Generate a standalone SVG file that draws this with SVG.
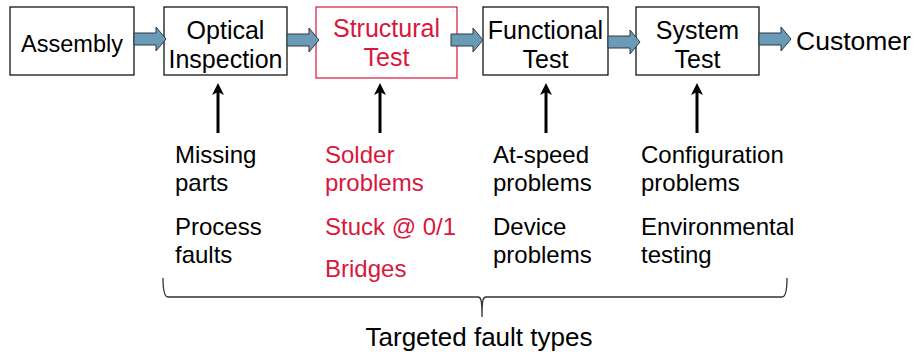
<svg xmlns="http://www.w3.org/2000/svg" width="914" height="362" viewBox="0 0 914 362">
<style>
text{font-family:"Liberation Sans",Arial,sans-serif;font-size:24px;fill:#000}
.c{text-anchor:middle}
.bt{font-size:25px}
.red{fill:#d9173c}
.box{fill:#fff;stroke:#000;stroke-width:1.2}
.rbox{fill:#fff;stroke:#d9173c;stroke-width:1.2}
.blk{fill:#6a9ab5;stroke:#2a3a44;stroke-width:1}
.up{stroke:#000;stroke-width:3;fill:none}
.brace{stroke:#333;stroke-width:1.3;fill:none}
</style>
<defs>
<path id="barrow" d="M0,-6 L22,-6 L22,-12 L32,0 L22,12 L22,6 L0,6 Z"/>
<path id="uphead" d="M0,0 L6,12 L0,9 L-6,12 Z" fill="#000"/>
</defs>
<g id="assembly"><rect class="box" x="10" y="7" width="124" height="68"/><text class="c" x="72" y="52" style="font-size:23.5px">Assembly</text></g>
<g id="optical"><rect class="box" x="164" y="7" width="123" height="68"/><text class="c bt" x="225.5" y="39">Optical</text><text class="c bt" x="225.5" y="68">Inspection</text></g>
<g id="structural"><rect class="rbox" x="316" y="7" width="141" height="71"/><text class="c bt red" x="386.5" y="37">Structural</text><text class="c bt red" x="386.5" y="66">Test</text></g>
<g id="functional"><rect class="box" x="483" y="7" width="125" height="68"/><text class="c bt" x="545.5" y="39">Functional</text><text class="c bt" x="545.5" y="68">Test</text></g>
<g id="system"><rect class="box" x="636" y="7" width="123" height="68"/><text class="c bt" x="697.5" y="39">System</text><text class="c bt" x="697.5" y="68">Test</text></g>
<g id="customer"><text x="796" y="50" style="font-size:26.5px">Customer</text></g>
<g id="connectors">
<use href="#barrow" class="blk" x="134" y="39"/>
<use href="#barrow" class="blk" x="287" y="40"/>
<use href="#barrow" class="blk" x="451" y="40"/>
<use href="#barrow" class="blk" x="608" y="42"/>
<use href="#barrow" class="blk" x="759" y="39"/>
<line class="up" x1="218" y1="133" x2="218" y2="90"/><use href="#uphead" x="218" y="83"/>
<line class="up" x1="380" y1="133" x2="380" y2="90"/><use href="#uphead" x="380" y="83"/>
<line class="up" x1="546" y1="133" x2="546" y2="90"/><use href="#uphead" x="546" y="83"/>
<line class="up" x1="697" y1="133" x2="697" y2="90"/><use href="#uphead" x="697" y="83"/>
<path class="brace" d="M163,278 C163,288 164,297 168,297 L478,297 C481,297 482,300 482,317 M482,317 C482,300 483,297 486,297 L782,297 C786,297 787,288 787,278"/>
</g>
<g id="faults">
<text x="175" y="163">Missing</text><text x="175" y="191">parts</text>
<text x="175" y="235">Process</text><text x="175" y="263">faults</text>
<text class="red" x="325" y="163">Solder</text><text class="red" x="325" y="191">problems</text>
<text class="red" x="325" y="235">Stuck @ 0/1</text><text class="red" x="325" y="277">Bridges</text>
<text x="493" y="163">At-speed</text><text x="493" y="191">problems</text>
<text x="493" y="235">Device</text><text x="493" y="263">problems</text>
<text x="641" y="163">Configuration</text><text x="641" y="191">problems</text>
<text x="641" y="235">Environmental</text><text x="641" y="263">testing</text>
<text class="c" x="479" y="346" style="font-size:26px">Targeted fault types</text>
</g>
</svg>
